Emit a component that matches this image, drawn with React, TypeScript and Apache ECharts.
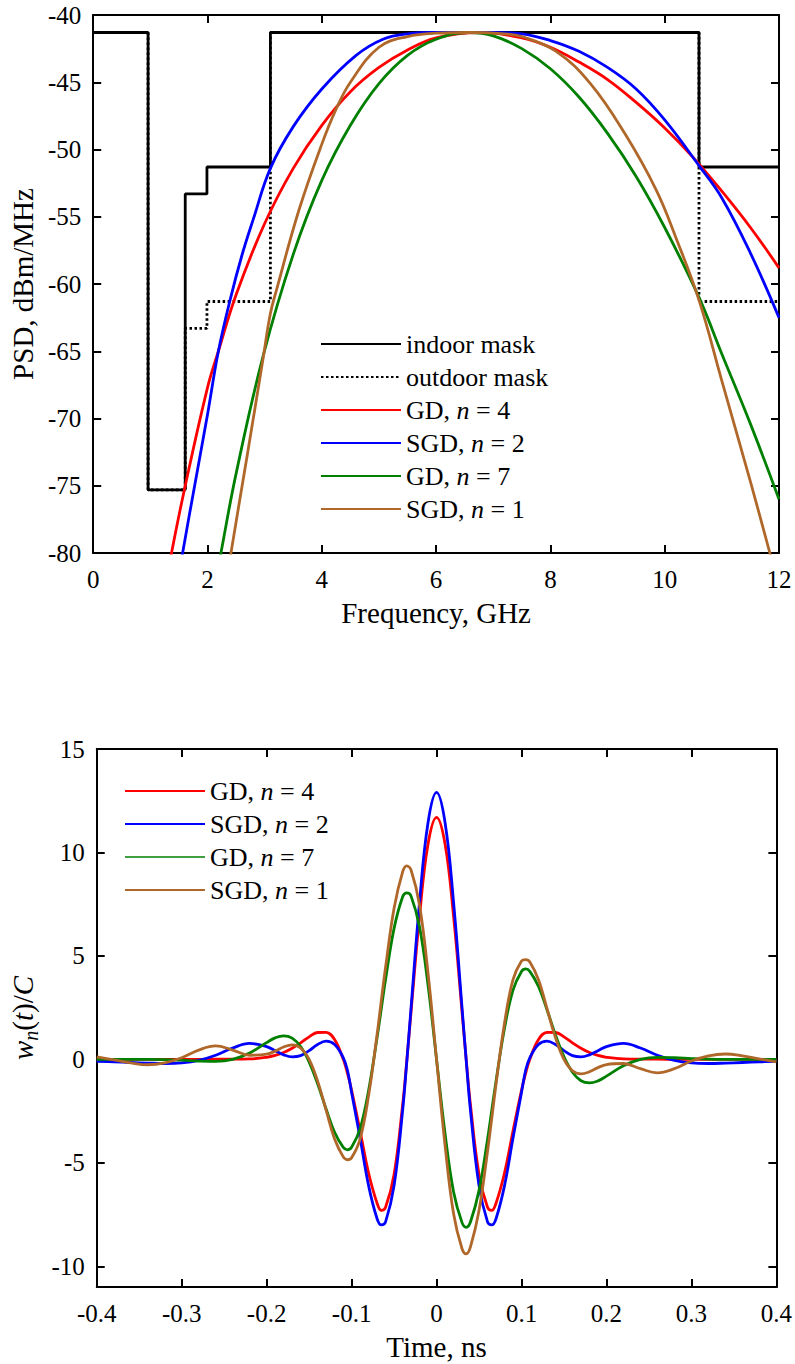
import React, { useEffect, useRef } from 'react';
import * as echarts from 'echarts';

const FONT = 'Liberation Serif';

// ---------- Top chart: PSD (frequency GHz, dBm/MHz) ----------
const INDOOR_MASK = [[0, -41.3], [0.96, -75.3], [1.61, -53.3], [1.99, -51.3], [3.1, -41.3], [10.6, -51.3], [12, -51.3]];
const OUTDOOR_MASK = [[0, -41.3], [0.96, -75.3], [1.61, -63.3], [1.99, -61.3], [3.1, -41.3], [10.6, -61.3], [12, -61.3]];

const PSD_GD4 = [[1.3, -81.8], [1.37, -80], [1.6, -75.2], [2.0, -67.7], [2.19, -65.0], [2.5, -60.8], [3.0, -55.5], [3.5, -51.4], [4.0, -48.2], [4.5, -45.7], [5.0, -43.9], [5.5, -42.6], [6.0, -41.7], [6.75, -41.3], [7.5, -41.7], [8.0, -42.4], [8.5, -43.5], [9.0, -44.8], [9.5, -46.5], [10.0, -48.4], [10.5, -50.6], [11.0, -53.1], [11.5, -55.8], [12.0, -58.8]];
const PSD_SGD2 = [[1.5, -81.7], [1.564, -80], [1.8, -74.4], [2.0, -69.7], [2.19, -65.0], [2.4, -61.1], [2.6, -57.9], [2.8, -55.2], [3.1, -51.4], [3.5, -48.3], [4.0, -45.5], [4.6, -43.0], [5.07, -41.8], [5.5, -41.4], [6.0, -41.3], [7.0, -41.3], [7.5, -41.4], [8.0, -41.9], [8.5, -42.7], [9.0, -43.9], [9.5, -45.5], [10.0, -47.8], [10.6, -51.2], [11.0, -53.6], [11.5, -57.7], [12.0, -62.5]];
const PSD_GD7 = [[2.15, -81.9], [2.234, -80], [2.5, -74.1], [2.97, -65.4], [3.5, -57.8], [4.0, -52.3], [4.5, -48.2], [5.0, -45.1], [5.5, -43.0], [6.0, -41.8], [6.57, -41.3], [7.0, -41.55], [7.5, -42.5], [8.0, -44.0], [8.5, -46.1], [9.0, -48.8], [9.5, -52.0], [10.0, -55.8], [10.6, -61.0], [11.0, -65.2], [11.5, -70.4], [12.0, -76.0]];
const PSD_SGD1 = [[2.34, -82], [2.41, -80], [2.7, -72.6], [2.97, -65.6], [3.1, -62.2], [3.21, -60.4], [3.6, -54.5], [4.0, -49.6], [4.25, -47.0], [4.5, -45.0], [5.0, -42.4], [5.5, -41.6], [6.0, -41.35], [6.6, -41.3], [7.2, -41.4], [7.5, -41.6], [8.1, -42.7], [8.7, -45.1], [9.3, -48.8], [9.85, -53.0], [10.2, -56.6], [10.6, -61.2], [11.0, -67.2], [11.5, -74.7], [11.84, -80], [11.95, -81.8]];

// ---------- Bottom chart: waveforms w_n(t)/C vs time (ns) ----------
const T = [-0.4, -0.38, -0.36, -0.34, -0.32, -0.3, -0.28, -0.26, -0.24, -0.22,
  -0.2, -0.19, -0.18, -0.17, -0.16, -0.15, -0.14, -0.13, -0.12, -0.11,
  -0.105, -0.1, -0.09, -0.08, -0.07, -0.065, -0.06, -0.05, -0.04, -0.035,
  -0.03, -0.02, -0.01, 0,
  0.01, 0.02, 0.03, 0.035, 0.04, 0.05, 0.06, 0.065, 0.07, 0.08, 0.09, 0.1, 0.105,
  0.11, 0.12, 0.13, 0.14, 0.15, 0.16, 0.17, 0.18, 0.19, 0.2,
  0.22, 0.24, 0.26, 0.28, 0.3, 0.32, 0.34, 0.36, 0.38, 0.4];

const W_GD4 = [0, 0, 0, 0, 0, 0, 0, 0.01, 0.01, 0.02,
  0.10, 0.19, 0.33, 0.54, 0.80, 1.09, 1.30, 1.31, 0.96, 0.03,
  -0.65, -1.49, -3.46, -5.49, -6.95, -7.3, -7.15, -5.56, -2.23, -0.06,
  2.30, 6.93, 10.41, 11.7,
  10.41, 6.93, 2.30, -0.06, -2.23, -5.56, -7.15, -7.3, -6.95, -5.49, -3.46, -1.49, -0.65,
  0.03, 0.96, 1.31, 1.30, 1.09, 0.80, 0.54, 0.33, 0.19, 0.10,
  0.02, 0.01, 0.01, 0, 0, 0, 0, 0, 0, 0];

const W_SGD2 = [-0.1, -0.12, -0.15, -0.18, -0.2, -0.17, -0.05, 0.2, 0.55, 0.77,
  0.62, 0.42, 0.22, 0.12, 0.18, 0.42, 0.72, 0.88, 0.72, 0.1,
  -0.5, -1.6, -3.8, -6.1, -7.7, -8.0, -7.85, -6.1, -2.5, -0.1,
  2.5, 7.6, 11.45, 12.9,
  11.45, 7.6, 2.5, -0.1, -2.5, -6.1, -7.85, -8.0, -7.7, -6.1, -3.8, -1.6, -0.5,
  0.1, 0.72, 0.88, 0.72, 0.42, 0.18, 0.12, 0.22, 0.42, 0.62,
  0.77, 0.55, 0.2, -0.05, -0.17, -0.2, -0.18, -0.15, -0.12, -0.1];

const W_GD7 = [0, 0, 0, 0, -0.01, -0.04, -0.08, -0.10, 0, 0.31,
  0.81, 1.04, 1.14, 1.03, 0.62, -0.13, -1.18, -2.40, -3.52, -4.24,
  -4.37, -4.25, -3.35, -1.50, 1.05, 2.46, 3.87, 6.33, 7.85, 8.05,
  7.89, 6.40, 3.58, 0,
  -3.58, -6.40, -7.89, -8.12, -7.85, -6.33, -3.87, -2.46, -1.05, 1.50, 3.35, 4.25, 4.37,
  4.24, 3.52, 2.40, 1.18, 0.13, -0.62, -1.03, -1.14, -1.04, -0.81,
  -0.31, 0, 0.10, 0.08, 0.04, 0.01, 0, 0, 0, 0];

const W_SGD1 = [0.12, -0.02, -0.17, -0.26, -0.17, 0.08, 0.45, 0.65, 0.45, 0.2,
  0.25, 0.4, 0.6, 0.7, 0.55, 0.0, -1.05, -2.45, -3.85, -4.7,
  -4.85, -4.75, -3.85, -1.75, 1.2, 2.85, 4.45, 7.3, 9.05, 9.35,
  9.15, 7.45, 4.15, 0,
  -4.15, -7.45, -9.15, -9.4, -9.05, -7.3, -4.45, -2.85, -1.2, 1.75, 3.85, 4.75, 4.82,
  4.7, 3.85, 2.45, 1.05, 0.0, -0.55, -0.7, -0.6, -0.4, -0.25,
  -0.2, -0.45, -0.65, -0.45, -0.08, 0.17, 0.26, 0.17, 0.02, -0.12];

const X_TOP_TICKS = { min: 0, max: 12, interval: 2 };
const Y_TOP_TICKS = { min: -80, max: -40, interval: 5 };
const X_BOT_TICKS = { min: -0.4, max: 0.4, interval: 0.1 };
const Y_BOT_RANGE = { min: -11, max: 15 };
const Y_BOT_LABELS = [-10, -5, 0, 5, 10, 15];

const RED = '#ff0000';
const BLUE = '#0000ff';
const GREEN = '#008000';
const BROWN = '#b0682a';

const LEGEND_LABELS: Record<string, string> = {
  indoor: 'indoor mask',
  outdoor: 'outdoor mask',
  psdGd4: '{r|GD, }{i|n}{r| = 4}',
  psdSgd2: '{r|SGD, }{i|n}{r| = 2}',
  psdGd7: '{r|GD, }{i|n}{r| = 7}',
  psdSgd1: '{r|SGD, }{i|n}{r| = 1}',
  wGd4: '{r|GD, }{i|n}{r| = 4}',
  wSgd2: '{r|SGD, }{i|n}{r| = 2}',
  wGd7: '{r|GD, }{i|n}{r| = 7}',
  wSgd1: '{r|SGD, }{i|n}{r| = 1}',
};

const LW = 2.8;
const axisLine = { show: true, onZero: false, lineStyle: { color: '#000', width: 2 } };
const axisTick = { show: true, inside: true, length: 8, lineStyle: { color: '#000', width: 2 } };
const axisLabel = { color: '#000', fontFamily: FONT, fontSize: 25 };

const legendText = {
  color: '#000',
  fontFamily: FONT,
  fontSize: 26,
  lineHeight: 26,
  rich: {
    r: { color: '#000', fontFamily: FONT, fontSize: 26, lineHeight: 26 },
    i: { color: '#000', fontFamily: FONT, fontSize: 26, lineHeight: 26, fontStyle: 'italic' },
  },
};

function lineSeries(name: string, data: number[][], color: string, xi: number, yi: number, extra: any = {}) {
  return {
    name,
    type: 'line',
    xAxisIndex: xi,
    yAxisIndex: yi,
    data,
    symbol: 'none',
    showSymbol: false,
    clip: true,
    lineStyle: { color, width: LW },
    itemStyle: { color },
    ...extra,
  };
}

const hiddenSymbol = { color: 'transparent', borderWidth: 0, opacity: 0 };

export default function App() {
  const ref = useRef<HTMLDivElement>(null);
  useEffect(() => {
    document.body.style.margin = '0';
    const chart = echarts.init(ref.current!, null, { renderer: 'svg' });
    const option: any = {
      animation: false,
      backgroundColor: '#fff',
      textStyle: { fontFamily: FONT },
      grid: [
        { left: 93, top: 15, width: 686, height: 538, containLabel: false },
        { left: 93, top: 749, width: 686, height: 538, containLabel: false },
      ],
      xAxis: [
        {
          gridIndex: 0, type: 'value', position: 'bottom', ...X_TOP_TICKS,
          axisLine, axisTick, splitLine: { show: false },
          axisLabel: { ...axisLabel, margin: 14 },
          name: 'Frequency, GHz', nameLocation: 'middle', nameGap: 45,
          nameTextStyle: { color: '#000', fontFamily: FONT, fontSize: 29 },
        },
        {
          gridIndex: 0, type: 'value', position: 'top', ...X_TOP_TICKS,
          axisLine, axisTick, splitLine: { show: false }, axisLabel: { show: false },
        },
        {
          gridIndex: 1, type: 'value', position: 'bottom', ...X_BOT_TICKS,
          axisLine, axisTick, splitLine: { show: false },
          axisLabel: { ...axisLabel, margin: 14 },
          name: 'Time, ns', nameLocation: 'middle', nameGap: 45,
          nameTextStyle: { color: '#000', fontFamily: FONT, fontSize: 29 },
        },
        {
          gridIndex: 1, type: 'value', position: 'top', ...X_BOT_TICKS,
          axisLine, axisTick, splitLine: { show: false }, axisLabel: { show: false },
        },
      ],
      yAxis: [
        {
          gridIndex: 0, type: 'value', position: 'left', ...Y_TOP_TICKS,
          axisLine, axisTick, splitLine: { show: false },
          axisLabel: { ...axisLabel, margin: 12 },
          name: 'PSD, dBm/MHz', nameLocation: 'middle', nameRotate: 90, nameGap: 54,
          nameTextStyle: { color: '#000', fontFamily: FONT, fontSize: 29 },
        },
        {
          gridIndex: 0, type: 'value', position: 'right', ...Y_TOP_TICKS,
          axisLine, axisTick, splitLine: { show: false }, axisLabel: { show: false },
        },
        {
          gridIndex: 1, type: 'value', position: 'left', ...Y_BOT_RANGE,
          axisLine,
          axisTick: { ...axisTick, customValues: Y_BOT_LABELS },
          splitLine: { show: false },
          axisLabel: { ...axisLabel, margin: 12, customValues: Y_BOT_LABELS },
          name: '{i|w}{s|n}{r|(}{i|t}{r|)/}{i|C}', nameLocation: 'middle', nameRotate: 90, nameGap: 54,
          nameTextStyle: {
            color: '#000', fontFamily: FONT, fontSize: 29,
            rich: {
              i: { fontFamily: FONT, fontSize: 29, fontStyle: 'italic', color: '#000', lineHeight: 36 },
              r: { fontFamily: FONT, fontSize: 29, color: '#000', lineHeight: 36 },
              s: { fontFamily: FONT, fontSize: 20, fontStyle: 'italic', color: '#000', lineHeight: 20, verticalAlign: 'bottom' },
            },
          },
        },
        {
          gridIndex: 1, type: 'value', position: 'right', ...Y_BOT_RANGE,
          axisLine,
          axisTick: { ...axisTick, customValues: Y_BOT_LABELS },
          splitLine: { show: false }, axisLabel: { show: false },
        },
      ],
      legend: [
        {
          orient: 'vertical', left: 315, top: 326, itemWidth: 80, itemHeight: 26, itemGap: 7,
          data: ['indoor', 'outdoor', 'psdGd4', 'psdSgd2', 'psdGd7', 'psdSgd1'],
          formatter: (n: string) => LEGEND_LABELS[n],
          textStyle: legendText,
          itemStyle: hiddenSymbol,
          selectedMode: false,
        },
        {
          orient: 'vertical', left: 119, top: 773, itemWidth: 80, itemHeight: 26, itemGap: 7,
          data: ['wGd4', 'wSgd2', { name: 'wGd7', lineStyle: { width: 1.5 } }, 'wSgd1'],
          formatter: (n: string) => LEGEND_LABELS[n],
          textStyle: legendText,
          itemStyle: hiddenSymbol,
          selectedMode: false,
        },
      ],
      series: [
        lineSeries('outdoor', OUTDOOR_MASK, '#000', 0, 0, { step: 'end', lineStyle: { color: '#000', width: LW, type: [2.5, 2.5] } }),
        lineSeries('indoor', INDOOR_MASK, '#000', 0, 0, { step: 'end' }),
        lineSeries('psdGd4', PSD_GD4, RED, 0, 0, { smooth: 0.4 }),
        lineSeries('psdSgd2', PSD_SGD2, BLUE, 0, 0, { smooth: 0.4 }),
        lineSeries('psdGd7', PSD_GD7, GREEN, 0, 0, { smooth: 0.4 }),
        lineSeries('psdSgd1', PSD_SGD1, BROWN, 0, 0, { smooth: 0.4 }),
        lineSeries('wGd4', T.map((t, i) => [t, W_GD4[i]]), RED, 2, 2, { smooth: 0.4 }),
        lineSeries('wSgd2', T.map((t, i) => [t, W_SGD2[i]]), BLUE, 2, 2, { smooth: 0.4 }),
        lineSeries('wGd7', T.map((t, i) => [t, W_GD7[i]]), GREEN, 2, 2, { smooth: 0.4 }),
        lineSeries('wSgd1', T.map((t, i) => [t, W_SGD1[i]]), BROWN, 2, 2, { smooth: 0.4 }),
      ],
    };
    chart.setOption(option);
    return () => chart.dispose();
  }, []);
  return <div ref={ref} style={{ width: 795, height: 1364 }} />;
}
